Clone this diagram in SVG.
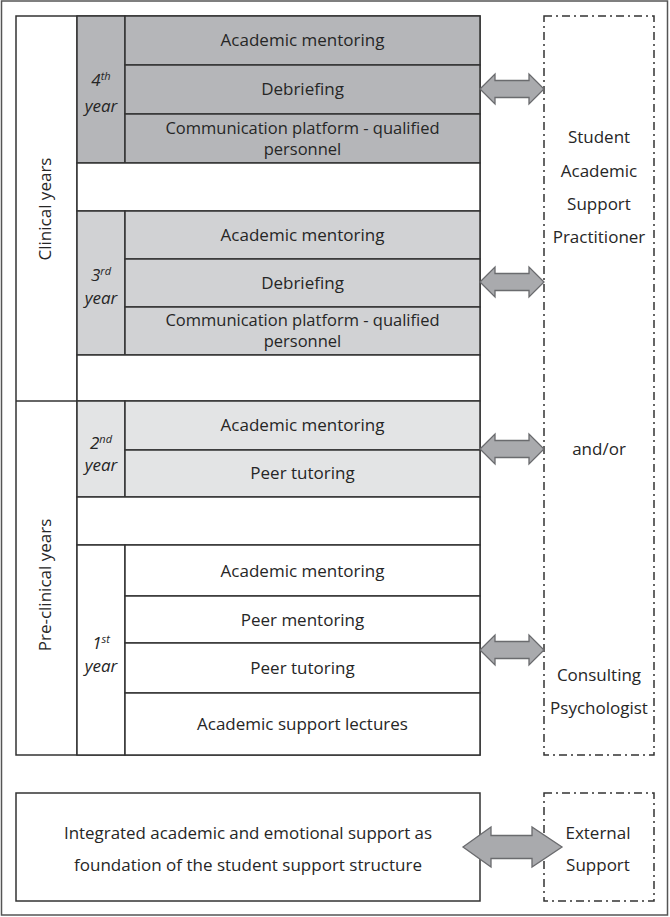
<svg xmlns="http://www.w3.org/2000/svg" xmlns:xlink="http://www.w3.org/1999/xlink" width="670" height="917" viewBox="0 0 670 917">
<style>
text{font-family:"Open Sans","Liberation Sans",sans-serif;font-size:17px;fill:#262626;text-anchor:middle}
.it{font-style:italic}
.sup{font-size:11px}
.two{font-size:16.5px}
.ln{fill:none;stroke:#333;stroke-width:1.5}
.c4{fill:#b5b6b9;stroke:#333;stroke-width:1.5}
.c3{fill:#d1d2d4;stroke:#333;stroke-width:1.5}
.c2{fill:#e3e4e5;stroke:#333;stroke-width:1.5}
.wh{fill:#fff;stroke:#333;stroke-width:1.5}
.dash{fill:none;stroke:#333;stroke-width:1.5;stroke-dasharray:8 4 2 4}
.arr{fill:#a9aaad;stroke:#6a6b6e;stroke-width:1.3}
</style>
<defs>
<path id="dbl" class="arr" d="M0,0 L15,-15 L15,-8.5 L49,-8.5 L49,-15 L64,0 L49,15 L49,8.5 L15,8.5 L15,15 Z"/>
</defs>
<rect x="1.5" y="1" width="666" height="914" fill="#fff" stroke="#555" stroke-width="1.5"/>

<g id="main-frame">
<rect class="wh" x="16" y="16" width="464" height="739"/>
<line class="ln" x1="77" y1="16" x2="77" y2="755"/>
<line class="ln" x1="16" y1="401" x2="480" y2="401"/>
</g>

<g id="clinical-label">
<text transform="translate(51,209) rotate(-90)">Clinical years</text>
</g>
<g id="preclinical-label">
<text transform="translate(51,585) rotate(-90)">Pre-clinical years</text>
</g>

<g id="year4">
<rect class="c4" x="77" y="16" width="48" height="147"/>
<rect class="c4" x="125" y="16" width="355" height="49"/>
<rect class="c4" x="125" y="65" width="355" height="49"/>
<rect class="c4" x="125" y="114" width="355" height="49"/>
<text class="it" x="101" y="86">4<tspan class="sup" dy="-6">th</tspan></text>
<text class="it" x="101" y="112">year</text>
<text x="302.5" y="46">Academic mentoring</text>
<text x="302.5" y="95">Debriefing</text>
<text class="two" x="302.5" y="134">Communication platform - qualified</text>
<text class="two" x="302.5" y="155">personnel</text>
</g>

<g id="gap4">
<rect class="wh" x="77" y="163" width="403" height="48"/>
</g>

<g id="year3">
<rect class="c3" x="77" y="211" width="48" height="144"/>
<rect class="c3" x="125" y="211" width="355" height="48"/>
<rect class="c3" x="125" y="259" width="355" height="48"/>
<rect class="c3" x="125" y="307" width="355" height="48"/>
<text class="it" x="101" y="281">3<tspan class="sup" dy="-6">rd</tspan></text>
<text class="it" x="101" y="304">year</text>
<text x="302.5" y="241">Academic mentoring</text>
<text x="302.5" y="289">Debriefing</text>
<text class="two" x="302.5" y="326">Communication platform - qualified</text>
<text class="two" x="302.5" y="347">personnel</text>
</g>

<g id="gap3">
<rect class="wh" x="77" y="355" width="403" height="46"/>
</g>

<g id="year2">
<rect class="c2" x="77" y="401" width="48" height="96"/>
<rect class="c2" x="125" y="401" width="355" height="49"/>
<rect class="c2" x="125" y="450" width="355" height="47"/>
<text class="it" x="101" y="449">2<tspan class="sup" dy="-6">nd</tspan></text>
<text class="it" x="101" y="471">year</text>
<text x="302.5" y="431">Academic mentoring</text>
<text x="302.5" y="479">Peer tutoring</text>
</g>

<g id="gap2">
<rect class="wh" x="77" y="497" width="403" height="48"/>
</g>

<g id="year1">
<rect class="wh" x="77" y="545" width="48" height="210"/>
<rect class="wh" x="125" y="545" width="355" height="51"/>
<rect class="wh" x="125" y="596" width="355" height="47"/>
<rect class="wh" x="125" y="643" width="355" height="50"/>
<rect class="wh" x="125" y="693" width="355" height="62"/>
<text class="it" x="101" y="649">1<tspan class="sup" dy="-6">st</tspan></text>
<text class="it" x="101" y="672">year</text>
<text x="302.5" y="577">Academic mentoring</text>
<text x="302.5" y="626">Peer mentoring</text>
<text x="302.5" y="674">Peer tutoring</text>
<text x="302.5" y="730">Academic support lectures</text>
</g>

<g id="support-practitioner">
<rect class="dash" x="544" y="16" width="110" height="739"/>
<text x="599" y="143">Student</text>
<text x="599" y="177">Academic</text>
<text x="599" y="210">Support</text>
<text x="599" y="243">Practitioner</text>
<text x="599" y="455">and/or</text>
<text x="599" y="681">Consulting</text>
<text x="599" y="714">Psychologist</text>
</g>

<g id="foundation">
<rect class="wh" x="16" y="793" width="464" height="108"/>
<text x="248" y="839" textLength="368" lengthAdjust="spacingAndGlyphs">Integrated academic and emotional support as</text>
<text x="248" y="871" textLength="348" lengthAdjust="spacingAndGlyphs">foundation of the student support structure</text>
</g>

<g id="external-support">
<rect class="dash" x="544" y="793" width="110" height="108"/>
<text x="598" y="839">External</text>
<text x="598" y="871">Support</text>
</g>

<g id="connectors">
<use xlink:href="#dbl" transform="translate(480,89)"/>
<use xlink:href="#dbl" transform="translate(480,282)"/>
<use xlink:href="#dbl" transform="translate(480,449)"/>
<use xlink:href="#dbl" transform="translate(480,650)"/>
<path class="arr" d="M463,847 L491,827 L491,835.5 L532,835.5 L532,827 L562,847 L532,867 L532,858.5 L491,858.5 L491,867 Z"/>
</g>
</svg>
